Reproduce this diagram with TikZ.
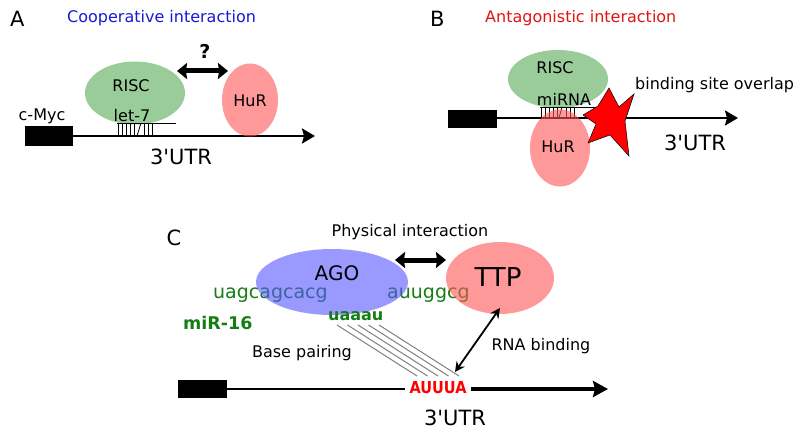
\documentclass[tikz,border=0pt]{standalone}
\usepackage{fontspec}
\setmainfont{DejaVu Sans}
\usetikzlibrary{arrows.meta,shapes.geometric}

\definecolor{riscgreen}{RGB}{85,170,85}
\definecolor{hurred}{RGB}{255,85,85}
\definecolor{agoblue}{RGB}{85,85,255}
\definecolor{titleblue}{RGB}{25,25,215}
\definecolor{titlered}{RGB}{225,20,20}
\definecolor{seqgreen}{RGB}{20,125,20}

\tikzset{
  lbl/.style={inner sep=0pt, font=\fontsize{16}{19}\selectfont},
  panel/.style={inner sep=0pt, font=\fontsize{21}{25}\selectfont},
  blob/.style={ellipse, inner sep=0pt, fill opacity=0.6},
  utr/.style={line width=2.4pt, -{Stealth[length=13pt,width=15pt,inset=2pt]}},
  bigarrow/.style={line width=5pt, {Stealth[length=10pt,width=16pt,inset=1pt]}-{Stealth[length=10pt,width=16pt,inset=1pt]}},
  cap5/.style={fill=black, inner sep=0pt},
  tick/.style={line width=0.8pt},
  pairline/.style={gray, line width=1pt}
}
\newcommand{\utrtext}{3\textquotesingle UTR}

\begin{document}
\begin{tikzpicture}[x=1pt,y=-1pt]
\useasboundingbox (0,0) rectangle (800,433);

% A: cooperative
\node[panel, anchor=west] (labA) at (10,19) {A};
\node[lbl, anchor=west, text=titleblue] (titleA) at (67,18) {Cooperative interaction};
\node[cap5, minimum width=48pt, minimum height=20pt] (boxA) at (49,136) {};
\coordinate (endA) at (315,136);
\draw[utr] (boxA.east) -- (endA);
\node[blob, fill=riscgreen, minimum width=100pt, minimum height=63pt] (riscA) at (135,93) {};
\node[blob, fill=hurred, minimum width=56pt, minimum height=73pt] (hurA) at (250,100) {};
\node[lbl] (riscAtxt) at (131,86) {RISC};
\node[lbl] (hurAtxt) at (250,101) {HuR};
\node[lbl] (myc) at (42,116) {c-Myc};
\node[lbl] (let7) at (132,116) {let-7};
\draw[tick] (117,123) -- (176,123);
\foreach \x in {118,122,126,130,134,144,148,152}
  \draw[tick] (\x,123) -- (\x,136);
\draw[tick] (137,136) -- (141,123);
\node[lbl, font=\fontsize{19}{22}\selectfont\bfseries] (qmark) at (205,51) {?};
\coordinate (leftA) at (177,71);
\coordinate (rightA) at (228,71);
\draw[bigarrow] (leftA) -- (rightA);
\node[panel] (utrA) at (181,157) {\utrtext};

% B: antagonistic
\node[panel, anchor=west] (labB) at (430,19) {B};
\node[lbl, anchor=west, text=titlered] (titleB) at (485,18) {Antagonistic interaction};
\node[cap5, minimum width=49pt, minimum height=18pt] (boxB) at (472,119) {};
\coordinate (endB) at (738,118);
\draw[utr] (boxB.east |- endB) -- (endB);
\node[blob, fill=riscgreen, minimum width=100pt, minimum height=58pt] (riscB) at (558,79) {};
\node[lbl] (riscBtxt) at (555,68) {RISC};
\node[lbl] (mirna) at (564,99) {miRNA};
\draw[tick] (540,107) -- (598,107);
\foreach \x in {541,545,549,553,557,566,570,574}
  \draw[tick] (\x,107) -- (\x,118);
\draw[tick] (559,118) -- (562,107);
\node[blob, fill=hurred, minimum width=60pt, minimum height=77pt] (hurB) at (560,148) {};
\node[lbl] (hurBtxt) at (558,147) {HuR};
\draw[fill=red, line width=0.5pt] (583,115) -- (598,106) -- (609,88) -- (619,107) -- (634,94)
  -- (625,121) -- (629,156) -- (610,135) -- (588,143) -- (596,124) -- cycle;
\node[lbl, anchor=west] (overlap) at (635,85) {binding site overlap};
\node[panel] (utrB) at (695,143) {\utrtext};

% C: AGO and TTP
\node[panel] (labC) at (174,238) {C};
\node[lbl] (physical) at (410,232) {Physical interaction};
\node[lbl, anchor=west, text=seqgreen, font=\fontsize{19}{22}\selectfont] (seqleft) at (213,295) {uagcagcacg};
\node[lbl, anchor=west, text=seqgreen, font=\fontsize{19}{22}\selectfont] (seqright) at (387,295) {auuggcg};
\node[blob, fill=agoblue, minimum width=152pt, minimum height=66pt] (ago) at (332,282) {};
\node[blob, fill=hurred, minimum width=108pt, minimum height=72pt] (ttp) at (500,278) {};
\node[lbl, font=\fontsize{20}{24}\selectfont] (agotxt) at (337,273) {AGO};
\node[lbl, font=\fontsize{26}{30}\selectfont] (ttptxt) at (498,277) {TTP};
\coordinate (leftC) at (395,260);
\coordinate (rightC) at (446,260);
\draw[bigarrow] (leftC) -- (rightC);
\node[lbl, anchor=west, text=seqgreen, font=\fontsize{17.5}{21}\selectfont\bfseries] (mir16) at (183,323) {miR-16};
\node[lbl, anchor=west, text=seqgreen, font=\fontsize{16}{19}\selectfont\bfseries] (seed) at (328,316) {uaaau};
\node[cap5, minimum width=49pt, minimum height=18pt] (boxC) at (202.5,389) {};
\node[lbl, text=red, font=\fontsize{16.5}{19}\selectfont\bfseries, xscale=0.88] (are) at (438,388) {AUUUA};
\coordinate (endC) at (608,389);
\draw[line width=2.4pt] (boxC.east) -- (405,389);
\draw[line width=3.4pt, -{Stealth[length=15pt,width=16pt,inset=2pt]}] (471,389) -- (endC);
\foreach \k in {0,...,4}
  \draw[pairline] (337+10.5*\k,325) -- (417+10.5*\k,376);
\node[lbl] (pairing) at (302,353) {Base pairing};
\coordinate (bindlow) at (455,372);
\coordinate (bindhigh) at (500,308);
\draw[line width=1.8pt, {Stealth[length=10pt,width=10pt]}-{Stealth[length=10pt,width=10pt]}] (bindlow) -- (bindhigh);
\node[lbl] (rnabind) at (541,346) {RNA binding};
\node[panel] (utrC) at (455,418) {\utrtext};
\end{tikzpicture}
\end{document}
